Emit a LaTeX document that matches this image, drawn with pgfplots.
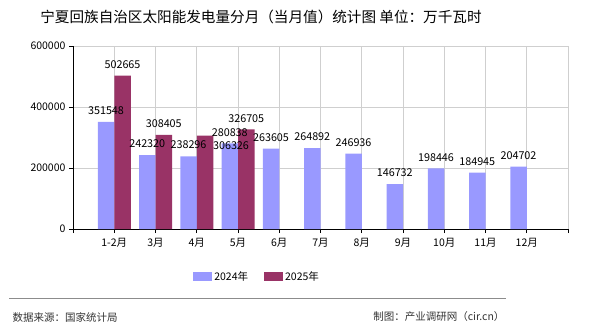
\documentclass[border=0pt]{standalone}
\usepackage{pgfplots}
\pgfplotsset{compat=1.18}
\usepackage{fontspec}
\setmainfont{Noto Sans CJK SC}
\definecolor{c24}{HTML}{9999FF}
\definecolor{c25}{HTML}{993366}
\definecolor{gridc}{HTML}{CFCFCF}
\begin{document}
\begin{tikzpicture}[x=1pt,y=1pt]
\useasboundingbox (0,0) rectangle (590,330);
\node[font=\fontsize{14.6}{16}\selectfont] at (261,313) {宁夏回族自治区太阳能发电量分月（当月值）统计图 单位：万千瓦时};
\begin{axis}[
  at={(73pt,101pt)}, anchor=south west, scale only axis,
  width=495pt, height=183pt,
  xmin=0, xmax=12, ymin=0, ymax=600000,
  axis lines*=left,
  axis line style={black, line width=0.8pt},
  xmajorgrids, ymajorgrids,
  grid style={gridc, line width=0.8pt},
  ybar=0pt, bar width=16.5pt,
  xtick={0,...,12},
  xticklabels={,1-2月,3月,4月,5月,6月,7月,8月,9月,10月,11月,12月,},
  ytick={0,200000,400000,600000},
  tick align=outside, major tick length=4pt,
  tick style={black, line width=0.8pt},
  scaled y ticks=false,
  /pgf/number format/.cd, fixed, 1000 sep={}, assume math mode=true, /pgfplots/.cd,
  ticklabel style={font=\fontsize{10.5}{12}\selectfont},
  xticklabel style={yshift=-2pt},
  nodes near coords,
  every node near coord/.append style={font=\fontsize{10.8}{12}\selectfont, inner sep=0pt, anchor=south, yshift=7pt, black},
  legend style={at={(0.372,-0.262)}, anchor=center, draw=none, legend columns=2,
    font=\fontsize{10.5}{12}\selectfont,
    /tikz/every even column/.append style={column sep=14pt}},
  legend image code/.code={\fill[#1] (0pt,-4.5pt) rectangle (19pt,4.5pt);},
]
\addplot[fill=c24, draw=none] coordinates {
(1,351548) (2,242320) (3,238296) (4,280838) (5,263605) (6,264892)
(7,246936) (8,146732) (9,198446) (10,184945) (11,204702)};
\addlegendentry{2024年}
\addplot[fill=c25, draw=none,
  visualization depends on={\thisrow{dx} \as \dx},
  visualization depends on={\thisrow{dy} \as \dy},
  every node near coord/.append style={xshift=\dx pt, yshift=\dy pt}]
  table {
x y dx dy
1 502665 0 0
2 308405 0 0
3 306326 26 -21
4 326705 0 0
};
\addlegendentry{2025年}
\end{axis}
\draw[gray!90, line width=1pt] (9,32) -- (506,32);
\node[anchor=west, font=\fontsize{10.5}{12}\selectfont, text=black!80] at (9,13) {数据来源：国家统计局};
\node[anchor=east, font=\fontsize{10.5}{12}\selectfont, text=black!80] at (508,13) {制图：产业调研网（cir.cn）};
\end{tikzpicture}
\end{document}
